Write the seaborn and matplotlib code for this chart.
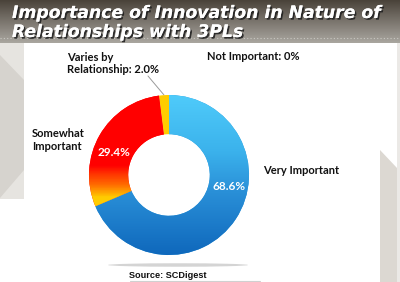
import numpy as np
import matplotlib
matplotlib.use("Agg")
import matplotlib.pyplot as plt
import seaborn as sns
from matplotlib.colors import LinearSegmentedColormap
from matplotlib.patches import Polygon, Rectangle, Ellipse
import matplotlib.patheffects as pe

# ---- data ----
categories = ["Very Important", "Somewhat Important", "Varies by Relationship", "Not Important"]
values = [68.6, 29.4, 2.0, 0.0]
pct_labels = ["68.6%", "29.4%", "2.0%", "0%"]
title_lines = ["Importance of Innovation in Nature of", "Relationships with 3PLs"]
source_text = "Source: SCDigest"

sns.set_theme(style="white")
plt.rcParams['font.family'] = ['Lato', 'DejaVu Sans']

W, H = 400, 282
fig = plt.figure(figsize=(W / 100, H / 100), dpi=100)
fig.patch.set_facecolor("#ffffff")

def fx(x):
    return x / W

def fy(y):
    return 1 - y / H

# background axes in pixel coords
bg = fig.add_axes([0, 0, 1, 1])
bg.set_xlim(0, W)
bg.set_ylim(H, 0)
bg.axis("off")

# left gray panel
bg.add_patch(Rectangle((0, 43), 24, 156, color="#e6e4e0", lw=0))
bg.add_patch(Polygon([(0, 55), (24, 80), (24, 170), (0, 198)], closed=True, color="#d6d3ce", lw=0))
# right gray panel
bg.add_patch(Rectangle((397, 43), 3, H - 43, color="#ebe9e6", lw=0))
bg.add_patch(Polygon([(380, 150), (397, 168), (397, H), (380, H)], closed=True, color="#dcd8d2", lw=0))

# title band gradient
grad = np.linspace(0, 1, 100).reshape(-1, 1)
tcmap = LinearSegmentedColormap.from_list("t", ["#4a433a", "#6b655d", "#8a857e", "#a9a69f"])
bg.imshow(grad, extent=(0, W, 43, 0), cmap=tcmap, aspect="auto", zorder=1)
bg.axhline(38, color="#c9c7c2", lw=0.8, ls=(0, (1, 2)), zorder=2)
bg.set_xlim(0, W)
bg.set_ylim(H, 0)

# source underline / shadow
bg.add_patch(Ellipse((178, 265), 140, 3.5, color="#b8b8b8", alpha=0.6, lw=0))
bg.plot([130, 260], [281, 281], color="#d0d0d0", lw=0.8)

# title text
shadow = [pe.withSimplePatchShadow(offset=(1.2, -1.2), shadow_rgbFace="#222222", alpha=0.9), pe.Normal()]
t1 = fig.text(fx(12), fy(13), title_lines[0], ha="left", va="center", color="white",
              fontsize=12, fontweight="bold", fontstyle="italic", family="DejaVu Sans",
              path_effects=shadow)
t2 = fig.text(fx(12), fy(32), title_lines[1], ha="left", va="center", color="white",
              fontsize=12, fontweight="bold", fontstyle="italic", family="DejaVu Sans",
              path_effects=shadow)
fig.canvas.draw()
r = fig.canvas.get_renderer()
w1 = t1.get_window_extent(r).width
fs = 12 * 368 / w1
t1.set_fontsize(fs)
t2.set_fontsize(fs)

# donut
cx, cy, R = 169, 175, 80
ax = fig.add_axes([fx(cx - R), fy(cy + R), 2 * R / W, 2 * R / H])
ax.set_xlim(-1, 1)
ax.set_ylim(-1, 1)
ax.set_aspect("equal")
ax.axis("off")

base_colors = ["#2a98dc", "#ff0000", "#ffcc00", "#8fd8f8"]
wedges, _ = ax.pie(values, colors=base_colors, startangle=90, counterclock=False,
                   radius=1.0, wedgeprops=dict(width=0.49, edgecolor="none"))

blue_cmap = LinearSegmentedColormap.from_list("b", [(0, "#4fcbfa"), (0.35, "#3bb2ec"),
                                                   (0.6, "#2a90d8"), (1, "#0f68bc")])
red_cmap = LinearSegmentedColormap.from_list("r", [(0, "#ff0000"), (0.44, "#ff0000"),
                                                  (0.5, "#ff3a00"), (0.56, "#ff6a00"),
                                                  (0.6, "#ff9a00"), (0.64, "#ffcc00"),
                                                  (1, "#ffd000")])
for wedge, cm in [(wedges[0], blue_cmap), (wedges[1], red_cmap)]:
    im = ax.imshow(np.linspace(0, 1, 200).reshape(-1, 1), extent=(-1, 1, -1, 1),
                   cmap=cm, aspect="auto", zorder=3)
    im.set_clip_path(wedge)
ax.set_xlim(-1, 1)
ax.set_ylim(-1, 1)

# labels
lab_kw = dict(fontsize=8, fontweight="bold", color="#111111")
fig.text(fx(263), fy(170), categories[0], ha="left", va="center", **lab_kw)
fig.text(fx(32), fy(140), "Somewhat\nImportant", ha="left", va="center", linespacing=1.15, **lab_kw)
fig.text(fx(67), fy(63.5), "Varies by\nRelationship: " + pct_labels[2], ha="left", va="center",
         linespacing=1.15, **lab_kw)
fig.text(fx(207), fy(56), categories[3] + ": " + pct_labels[3], ha="left", va="center", **lab_kw)

pct_kw = dict(fontsize=8.5, fontweight="bold", color="white")
fig.text(fx(229), fy(187), pct_labels[0], ha="center", va="center", **pct_kw)
fig.text(fx(114), fy(153), pct_labels[1], ha="center", va="center", **pct_kw)

# leader line
bg.plot([148, 164], [76, 95], color="#9a9a9a", lw=0.7, zorder=5)

fig.text(fx(168), fy(275), source_text, ha="center", va="center", fontsize=6.6,
         fontweight="bold", family="Liberation Sans", color="#111111")

fig.savefig("out.png", dpi=100)
